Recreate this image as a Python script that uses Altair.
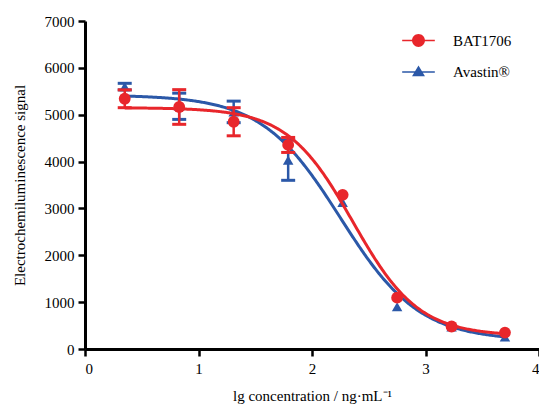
import altair as alt
import pandas as pd

# ---- data ----
lg_conc = [0.35, 0.83, 1.31, 1.79, 2.27, 2.75, 3.23, 3.70]
bat_signal = [5340, 5165, 4850, 4355, 3290, 1095, 480, 350]
bat_err = [190, 370, 300, 160, 0, 0, 0, 0]
ava_signal = [5600, 5180, 5060, 4030, 3130, 900, 470, 255]
ava_err = [70, 280, 230, 430, 0, 0, 0, 0]

# 4-parameter logistic fit parameters: top, bottom, logEC50, hill
bat_fit = [5150, 280, 2.36, 1.5]
ava_fit = [5420, 180, 2.25, 1.25]

series_names = ["BAT1706", "Avastin\u00ae"]
series_colors = ["#E8262B", "#2B58A8"]

FONT = "Liberation Serif"

def pts_df(ys, errs, name):
    return pd.DataFrame({
        "x": lg_conc, "y": ys,
        "lo": [v - e for v, e in zip(ys, errs)],
        "hi": [v + e for v, e in zip(ys, errs)],
        "err": errs,
        "series": name,
    })

bat_df = pts_df(bat_signal, bat_err, series_names[0])
ava_df = pts_df(ava_signal, ava_err, series_names[1])

x_enc = alt.X("x:Q", scale=alt.Scale(domain=[0, 4], nice=False),
              axis=alt.Axis(values=[0, 1, 2, 3, 4], format="d",
                            title="lg concentration / ng\u00b7mL\u207b\u00b9"))
y_enc = alt.Y("y:Q", scale=alt.Scale(domain=[0, 7000], nice=False),
              axis=alt.Axis(values=list(range(0, 7001, 1000)), format="d",
                            title="Electrochemiluminescence  signal"))

def curve(fit, color):
    top, bottom, c, h = fit
    return alt.Chart(alt.sequence(lg_conc[0], lg_conc[-1] + 0.005, 0.01, as_="x")).transform_calculate(
        y=f"{bottom} + ({top} - {bottom}) / (1 + pow(10, (datum.x - {c}) * {h}))"
    ).mark_line(color=color, strokeWidth=3).encode(x=x_enc, y=y_enc)

def errbars(df, color):
    base = alt.Chart(df).transform_filter("datum.err > 0")
    rule = base.mark_rule(color=color, strokeWidth=2.5, opacity=1).encode(
        x=x_enc, y="lo:Q", y2="hi:Q")
    cap_lo = base.mark_tick(color=color, orient="horizontal", size=14, thickness=3,
                            opacity=1).encode(x=x_enc, y="lo:Q")
    cap_hi = base.mark_tick(color=color, orient="horizontal", size=14, thickness=3,
                            opacity=1).encode(x=x_enc, y="hi:Q")
    return rule + cap_lo + cap_hi

def points(df, color, shape, size):
    return alt.Chart(df).mark_point(filled=True, opacity=1, color=color, shape=shape,
                                    size=size).encode(x=x_enc, y=y_enc)

circle_path = ("M-2.4,-0.12 L-0.6,-0.12 L-0.6,0.12 L-2.4,0.12 Z "
               "M0.6,-0.12 L2.4,-0.12 L2.4,0.12 L0.6,0.12 Z "
               "M0.95,0 A0.95,0.95 0 1,1 -0.95,0 A0.95,0.95 0 1,1 0.95,0 Z")
tri_path = ("M-2.4,-0.05 L-0.5,-0.05 L-0.5,0.19 L-2.4,0.19 Z "
            "M0.5,-0.05 L2.4,-0.05 L2.4,0.19 L0.5,0.19 Z "
            "M0,-0.9 L0.95,0.7 L-0.95,0.7 Z")

legend_df = pd.DataFrame({"x": lg_conc[:2], "y": bat_signal[:2], "series": series_names})
legend_layer = alt.Chart(legend_df).transform_filter("false").mark_point(
    filled=True, opacity=1).encode(
    x=x_enc, y=y_enc,
    color=alt.Color("series:N", scale=alt.Scale(domain=series_names, range=series_colors),
                    legend=alt.Legend(title=None)),
    shape=alt.Shape("series:N", scale=alt.Scale(domain=series_names, range=[circle_path, tri_path]),
                    legend=alt.Legend(title=None)),
)

chart = alt.layer(
    curve(ava_fit, series_colors[1]),
    errbars(ava_df, series_colors[1]),
    points(ava_df, series_colors[1], "triangle-up", 110),
    curve(bat_fit, series_colors[0]),
    errbars(bat_df, series_colors[0]),
    points(bat_df, series_colors[0], "circle", 140),
    legend_layer,
).properties(
    width=454, height=328,
    autosize=alt.AutoSizeParams(type="none"),
    padding={"left": 77, "top": 13, "right": 0, "bottom": 56},
).configure_view(stroke=None).configure_axis(
    grid=False, domainColor="black", domainWidth=3, tickColor="black", tickWidth=2.5,
    tickSize=7, labelFont=FONT, labelFontSize=15, labelColor="black",
    titleFont=FONT, titleFontSize=15, titleFontWeight="normal", titleColor="black",
).configure_axisY(labelPadding=4, titlePadding=17).configure_axisX(
    labelPadding=5, titlePadding=12
).configure_legend(
    orient="none", legendX=326, legendY=12, padding=0, symbolSize=185,
    labelFont=FONT, labelFontSize=15, labelColor="black", labelOffset=27,
    rowPadding=15, symbolStrokeWidth=0,
)

chart.save("out.html", embed_options={"renderer": "svg", "actions": False})
